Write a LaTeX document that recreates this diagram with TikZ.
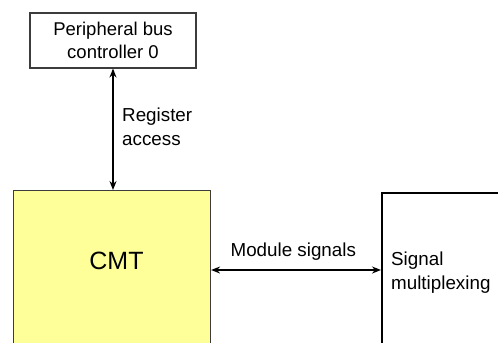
\documentclass[tikz,border=0pt]{standalone}
\usepackage{fontspec}
\setmainfont{Liberation Sans}
\usetikzlibrary{arrows.meta,positioning}
\definecolor{cmtColor}{RGB}{255,255,153}
\definecolor{frameColor}{RGB}{60,60,60}

\begin{document}
\begin{tikzpicture}[
        x=1bp, y=-1bp,
        block/.style={
                draw=frameColor,
                line width=1.1bp,
                inner sep=0pt,
                font=\fontsize{18.5bp}{23.5bp}\selectfont,
                align=center
            },
        sigtext/.style={
                inner sep=0pt,
                font=\fontsize{18.8bp}{23.5bp}\selectfont,
                align=left
            },
        link/.style={
                {Stealth[length=9bp,width=7bp,inset=3bp]}-{Stealth[length=9bp,width=7bp,inset=3bp]},
                line width=1.4bp,
                black
            }
    ]
    \useasboundingbox (0,0) rectangle (498,342);
    \clip (0,0) rectangle (498,342);

    % ---- Peripheral bus controller ----
    \node[block, minimum width=166bp, minimum height=55bp] (pbc) at (113,40.5)
    {Peripheral bus\\controller 0};

    % ---- CMT ----
    \node[block, fill=cmtColor, minimum width=197bp, minimum height=200bp,
        anchor=north west] (cmt) at (13,190) {};
    \node[font=\fontsize{25bp}{30bp}\selectfont, inner sep=0pt] (cmtlabel) at (116.5,261) {CMT};

    % ---- Signal multiplexing ----
    \node[draw=black, line width=1.6bp, minimum width=160bp, minimum height=200bp,
        anchor=north west] (mux) at (381,192) {};
    \node[sigtext, anchor=west] (muxlabel) at (391,272.5) {Signal\\multiplexing};

    % ---- Connections ----
    \coordinate (cmttop) at (cmt.north west -| pbc.south);
    \draw[link] (pbc.south) -- (cmttop);
    \node[sigtext, anchor=west] (regacc) at (122,127) {Register\\access};

    \coordinate (cmtright) at (cmt.north east |- 0,270);
    \coordinate (muxleft) at (mux.north west |- 0,270);
    \draw[link] (cmtright) -- (muxleft);
    \node[sigtext, anchor=base] (modsig) at (293.3,256) {Module signals};
\end{tikzpicture}
\end{document}
